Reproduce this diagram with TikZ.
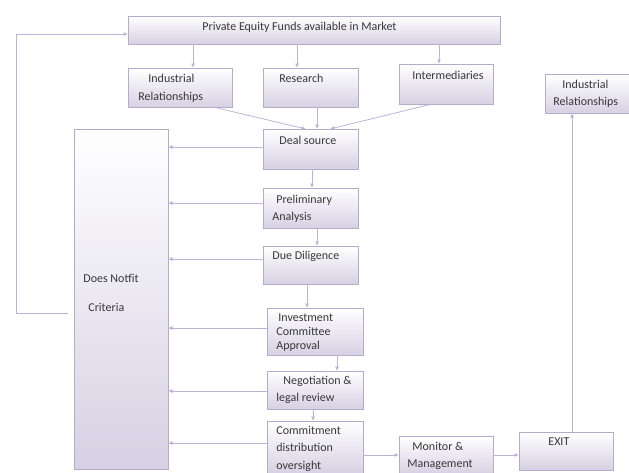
\documentclass[tikz,border=0pt]{standalone}
\usepackage{fontspec}
\setmainfont{Carlito}
\usetikzlibrary{arrows.meta,positioning,calc,shadows}
\definecolor{boxline}{RGB}{180,172,205}
\definecolor{boxfill}{RGB}{214,209,227}
\definecolor{flowcol}{RGB}{188,180,216}
\tikzset{every picture/.style={line width=0.8pt}}
\tikzset{
  box/.style={draw=boxline, top color=white, bottom color=boxfill, anchor=north west,
    inner sep=0pt, outer sep=0pt,
    drop shadow={shadow xshift=0.6pt, shadow yshift=-1.2pt, fill=black, opacity=0.25}},
  boxtext/.style={font=\fontsize{12}{17}\selectfont, text=black!78, align=left,
    anchor=north west, inner sep=0pt},
  flow/.style={draw=flowcol, -{Latex[length=4.5pt,width=4pt]}}
}

\begin{document}
\begin{tikzpicture}[x=1pt, y=-1pt]
    \clip (0,0) rectangle (629,472);
    % sources
    \node[box, minimum width=372pt, minimum height=28pt] (pef) at (128,16) {};
    \node[box, minimum width=104pt, minimum height=39pt] (indrel) at (128,68) {};
    \node[box, minimum width=95pt, minimum height=39pt] (research) at (263,68) {};
    \node[box, minimum width=94pt, minimum height=40pt] (interm) at (399,64) {};
    \node[box, minimum width=90pt, minimum height=39pt] (exitrel) at (545,74) {};
    % rejection box
    \node[box, minimum width=94pt, minimum height=340pt] (nofit) at (74,129) {};
    % process steps
    \node[box, minimum width=95pt, minimum height=40pt] (deal) at (263,129) {};
    \node[box, minimum width=95pt, minimum height=40pt] (prelim) at (263,188) {};
    \node[box, minimum width=95pt, minimum height=38pt] (due) at (263,246) {};
    \node[box, minimum width=96pt, minimum height=47pt] (invest) at (267,308) {};
    \node[box, minimum width=96pt, minimum height=38pt] (negot) at (267,371) {};
    \node[box, minimum width=96pt, minimum height=53pt] (commit) at (267,421) {};
    \node[box, minimum width=94pt, minimum height=38pt] (monitor) at (399,436) {};
    \node[box, minimum width=94pt, minimum height=38pt] (exitbox) at (519,432) {};

    % texts
    \node[boxtext] (pef-t) at (202,21.5) {Private Equity Funds available in Market};
    \node[boxtext, font=\fontsize{12}{18}\selectfont] (indrel-t) at (138,73.5) {\hspace*{10pt}Industrial\\Relationships};
    \node[boxtext] (research-t) at (279,73.5) {Research};
    \node[boxtext] (interm-t) at (412,70.5) {Intermediaries};
    \node[boxtext] (exitrel-t) at (553,79.5) {\hspace*{9pt}Industrial\\Relationships};
    \node[boxtext] (nofit-t) at (83,273.5) {Does Notfit\\[12pt]\hspace*{5pt}Criteria};
    \node[boxtext] (deal-t) at (279,135.5) {Deal source};
    \node[boxtext] (prelim-t) at (272,194.5) {\hspace*{4pt}Preliminary\\Analysis};
    \node[boxtext] (due-t) at (272,250.5) {Due Diligence};
    \node[boxtext, font=\fontsize{12}{14}\selectfont] (invest-t) at (276,313.5) {\hspace*{2pt}Investment\\Committee\\Approval};
    \node[boxtext] (negot-t) at (276,375.5) {\hspace*{7pt}Negotiation \&\\legal review};
    \node[boxtext, font=\fontsize{12}{17.5}\selectfont] (commit-t) at (276,425.5) {Commitment\\distribution\\oversight};
    \node[boxtext] (monitor-t) at (407,441.5) {\hspace*{5pt}Monitor \&\\Management};
    \node[boxtext] (exitbox-t) at (548,437.5) {EXIT};

    % feedback loop
    \coordinate (fb) at (68,313);
    \coordinate (fbturn) at (16,34);
    \draw[flow] (fb) -| (fbturn) -- ([yshift=-4pt]pef.west);
    % fund market to sources
    \foreach \n/\s in {indrel/13, research/-13.5, interm/-7}{
        \coordinate (t) at ([xshift=\s pt]\n.north);
        \draw[flow] (t |- pef.south) -- (t);
    }
    % sources to deal source
    \draw[flow] ([xshift=33pt]indrel.south) -- ([xshift=-4.5pt]deal.north);
    \draw[flow] ([xshift=6.5pt]research.south) -- ([xshift=6.5pt]deal.north);
    \draw[flow] ([xshift=-14pt]interm.south) -- ([xshift=19.5pt]deal.north);
    % main chain
    \draw[flow] ([xshift=1.5pt]deal.south) -- ([xshift=1.5pt]prelim.north);
    \draw[flow] ([xshift=6.5pt]prelim.south) -- ([xshift=6.5pt]due.north);
    \draw[flow] ([xshift=-3.5pt]due.south) -- ([xshift=-8pt]invest.north);
    \draw[flow] ([xshift=22pt]invest.south) -- ([xshift=22pt]negot.north);
    \draw[flow] ([xshift=-2pt]negot.south) -- ([xshift=-2pt]commit.north);
    % rejections
    \foreach \n/\s in {deal/2, prelim/5, due/6, invest/3.5, negot/-1, commit/4.5}{
        \coordinate (t) at ([yshift=\s pt]\n.west);
        \draw[flow] (t) -- (t -| nofit.east);
    }
    % exit path
    \draw[flow] (commit.east |- monitor.west) -- (monitor.west);
    \draw[flow] (monitor.east) -- (monitor.east -| exitbox.west);
    \coordinate (up) at ([xshift=6pt]exitbox.north);
    \draw[flow] (up) -- (up |- exitrel.south);
\end{tikzpicture}
\end{document}
